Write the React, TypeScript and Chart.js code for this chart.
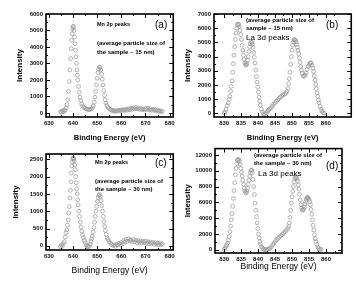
import React, { useEffect, useRef } from "react";
import { Chart, registerables } from "chart.js";

Chart.register(...registerables);

const FONT = "'Liberation Sans', Arial, Helvetica, sans-serif";

// ---------- Panel (a): Mn 2p, 15 nm ----------
const mn15Energy = [
  634.8, 635.2, 635.6, 636.0, 636.4, 636.8, 637.2, 637.5, 637.8, 638.1, 638.4, 638.7, 639.0, 639.2, 639.4, 639.6, 639.8,
  640.0, 640.2, 640.4, 640.6, 640.8, 641.0, 641.2, 641.4, 641.6, 641.8, 642.0, 642.3, 642.6, 642.9, 643.2, 643.6, 644.0,
  644.5, 645.0, 645.5, 646.0, 646.5, 647.0, 647.5, 648.0, 648.4, 648.8, 649.1, 649.4, 649.7, 650.0, 650.3, 650.6, 650.9,
  651.2, 651.5, 651.8, 652.1, 652.4, 652.7, 653.0, 653.3, 653.6, 654.0, 654.5, 655.0, 655.5,
  656.0, 656.5, 657.0, 657.5, 658.0, 658.5, 659.0, 659.5, 660.0, 660.5, 661.0, 661.5, 662.0, 662.5, 663.0, 663.5,
  664.0, 664.5, 665.0, 665.5, 666.0, 666.5, 667.0, 667.5, 668.0, 668.5, 669.0, 669.5, 670.0, 670.5, 671.0, 671.5,
  672.0, 672.5, 673.0, 673.5, 674.0, 674.5, 675.0, 675.5, 676.0, 676.5, 677.0,
];
const mn15Intensity = [
  80, 20, 120, 60, 180, 150, 300, 500, 800, 1300, 1900, 2600, 3300, 3900, 4400, 4800, 5100,
  5250, 5200, 5000, 4600, 4200, 3800, 3400, 3000, 2600, 2300, 2000, 1600, 1250, 950, 750, 550, 420,
  330, 280, 240, 220, 200, 210, 230, 300, 420, 650, 950, 1300, 1700, 2100, 2450, 2650, 2780,
  2750, 2600, 2350, 2050, 1700, 1350, 1050, 800, 600, 450, 330, 250, 200,
  160, 120, 140, 90, 120, 150, 110, 170, 130, 200, 180, 140, 220, 170, 250, 190,
  280, 220, 300, 240, 330, 250, 290, 220, 260, 200, 240, 180, 260, 210, 280, 190,
  250, 170, 220, 150, 200, 130, 170, 100, 130, 80, 100,
];

// ---------- Panel (b): La 3d, 15 nm ----------
const la15Energy = [
  830.0, 830.3, 830.6, 830.9, 831.2, 831.5, 831.7, 831.9, 832.1, 832.3, 832.5, 832.7, 832.9, 833.1, 833.3, 833.5, 833.7,
  833.9, 834.1, 834.3, 834.5, 834.7, 834.9, 835.1, 835.3, 835.5, 835.7, 835.9, 836.1, 836.3, 836.5, 836.7, 836.9, 837.1,
  837.3, 837.5, 837.7, 837.9, 838.1, 838.3, 838.5, 838.7, 838.9, 839.1, 839.3, 839.5, 839.7, 839.9, 840.1, 840.3, 840.5,
  840.7, 841.0, 841.3, 841.6, 841.9, 842.2, 842.5, 842.8, 843.1, 843.4, 843.8, 844.2, 844.6, 845.0, 845.4, 845.8, 846.2,
  846.6, 847.0, 847.4, 847.8, 848.2, 848.5, 848.8, 849.0, 849.2, 849.4, 849.6, 849.8, 850.0, 850.2, 850.4, 850.6, 850.8,
  851.0, 851.2, 851.4, 851.6, 851.8, 852.0, 852.2, 852.4, 852.6, 852.8, 853.0, 853.3, 853.6, 853.9, 854.2, 854.5, 854.8,
  855.1, 855.4, 855.7, 856.0, 856.2, 856.4, 856.6, 856.8, 857.0, 857.2, 857.4, 857.6, 857.8, 858.0, 858.3, 858.6, 858.9,
  859.2, 859.5,
];
const la15Intensity = [
  30, 120, 300, 550, 750, 1000, 1200, 1550, 1900, 2300, 2900, 3500, 4100, 4700, 5200, 5650, 6000,
  6250, 6300, 6250, 6100, 5850, 5550, 5200, 4800, 4450, 4100, 3800, 3550, 3450, 3400, 3500, 3750, 4000,
  4350, 4700, 4900, 5050, 5000, 4850, 4650, 4300, 3950, 3550, 3050, 2600, 2200, 1850, 1500, 1150, 850,
  600, 300, 100, -30, -80, -20, 50, 150, 230, 300, 400, 520, 650, 760, 850, 950, 1050,
  1150, 1220, 1300, 1350, 1420, 1550, 1750, 2100, 2450, 2900, 3450, 4000, 4450, 4800, 5050, 5180, 5200,
  5150, 5050, 4850, 4650, 4450, 4200, 3900, 3600, 3300, 3050, 2850, 2650, 2600, 2700, 2850, 3100, 3300,
  3450, 3550, 3550, 3400, 3200, 2950, 2650, 2350, 2050, 1750, 1450, 1200, 950, 750, 500, 300, 150,
  60, 20,
];

// ---------- Panel (c): Mn 2p, 30 nm ----------
const mn30Energy = [
  634.8, 635.2, 635.6, 636.0, 636.4, 636.8, 637.1, 637.4, 637.7, 638.0, 638.25, 638.5, 638.7, 638.9, 639.1, 639.3, 639.5,
  639.7, 639.9, 640.1, 640.3, 640.5, 640.7, 640.9, 641.1, 641.3, 641.5, 641.7, 641.9, 642.1, 642.4, 642.7, 643.0, 643.3,
  643.6, 643.9, 644.3, 644.7, 645.1, 645.5, 645.9, 646.3, 646.7, 647.1, 647.4, 647.7, 648.0, 648.3, 648.6, 648.9, 649.2,
  649.5, 649.8, 650.1, 650.4, 650.7, 651.0, 651.3, 651.6, 651.9, 652.2, 652.5, 652.8, 653.1, 653.4, 653.7, 654.1, 654.5,
  655.0, 655.5,
  656.0, 656.5, 657.0, 657.5, 658.0, 658.5, 659.0, 659.5, 660.0, 660.5, 661.0, 661.5, 662.0, 662.5, 663.0, 663.5,
  664.0, 664.5, 665.0, 665.5, 666.0, 666.5, 667.0, 667.5, 668.0, 668.5, 669.0, 669.5, 670.0, 670.5, 671.0, 671.5,
  672.0, 672.5, 673.0, 673.5, 674.0, 674.5, 675.0, 675.5, 676.0, 676.5, 677.0,
];
const mn30Intensity = [
  -20, 30, -10, 60, 120, 250, 380, 460, 600, 750, 950, 1130, 1380, 1600, 1850, 2100, 2300,
  2430, 2520, 2540, 2500, 2450, 2330, 2200, 2000, 1820, 1650, 1500, 1330, 1180, 1000, 850, 680, 540,
  420, 320, 230, 150, 90, 20, -20, -30, -10, 50, 130, 200, 280, 400, 530, 680, 850,
  1000, 1140, 1280, 1400, 1460, 1480, 1420, 1300, 1160, 1000, 850, 700, 560, 440, 330, 230, 180,
  120, 80,
  40, 10, 30, -10, 40, 20, 70, 40, 100, 60, 150, 110, 190, 130, 200, 150,
  170, 120, 180, 110, 160, 90, 150, 100, 140, 80, 130, 90, 140, 70, 120, 60,
  110, 70, 100, 40, 90, 50, 80, 30, 70, 40, 60,
];

// ---------- Panel (d): La 3d, 30 nm ----------
const la30Energy = [
  830.0, 830.25, 830.5, 830.75, 831.0, 831.25, 831.5, 831.7, 831.9, 832.1, 832.3, 832.5, 832.7, 832.9, 833.1, 833.3, 833.5,
  833.7, 833.9, 834.1, 834.3, 834.5, 834.7, 834.9, 835.1, 835.3, 835.5, 835.7, 835.9, 836.1, 836.3, 836.5, 836.7, 836.9,
  837.1, 837.3, 837.5, 837.7, 837.9, 838.1, 838.3, 838.5, 838.7, 838.9, 839.1, 839.3, 839.5, 839.7, 839.9, 840.1, 840.3,
  840.5, 840.7, 841.0, 841.3, 841.6, 841.9, 842.2, 842.5, 842.8, 843.1, 843.5, 843.9, 844.3, 844.7, 845.1, 845.5, 845.9,
  846.3, 846.7, 847.1, 847.5, 847.9, 848.3, 848.7, 849.0, 849.2, 849.4, 849.6, 849.8, 850.0, 850.2, 850.4, 850.6, 850.8,
  851.0, 851.2, 851.4, 851.6, 851.8, 852.0, 852.2, 852.4, 852.6, 852.8, 853.0, 853.2, 853.4, 853.6, 853.8, 854.0, 854.2,
  854.4, 854.6, 854.8, 855.0, 855.2, 855.4, 855.6, 855.8, 856.0, 856.2, 856.4, 856.6, 856.8, 857.0, 857.3, 857.6, 857.9,
  858.2, 858.5,
];
const la30Intensity = [
  60, 200, 420, 600, 840, 1200, 1700, 2300, 3000, 3800, 4600, 5500, 6500, 7500, 8500, 9500, 10300,
  10900, 11300, 11450, 11400, 11200, 10800, 10300, 9800, 9300, 8800, 8300, 7800, 7450, 7250, 7200, 7400, 7800,
  8300, 8800, 9300, 9750, 10050, 10100, 9700, 8900, 8000, 7000, 5900, 5000, 4200, 3400, 2700, 2000, 1500,
  1050, 750, 420, 220, 100, 50, 10, 0, 60, 120, 200, 400, 650, 880, 1080, 1280, 1450,
  1620, 1780, 1950, 2100, 2270, 2450, 2700, 2950, 3400, 4100, 5000, 5900, 6700, 7400, 8000, 8600, 9000,
  9200, 9150, 9000, 8700, 8200, 7700, 7000, 6300, 5700, 5300, 5050, 5000, 5150, 5400, 5800, 6100, 6400,
  6600, 6650, 6550, 6400, 6100, 5700, 5100, 4500, 3800, 3100, 2500, 1900, 1400, 1050, 650, 350, 120,
  20, 80,
];

// ---------- Tick values ----------
const mnXTicks = [630, 640, 650, 660, 670, 680];
const mnXMinor = [635, 645, 655, 665, 675];
const laXTicks = [830, 835, 840, 845, 850, 855, 860];
const laXMinor = [832.5, 837.5, 842.5, 847.5, 852.5, 857.5, 862.5];
const aYTicks = [0, 1000, 2000, 3000, 4000, 5000, 6000];
const aYMinor = [500, 1500, 2500, 3500, 4500, 5500];
const bYTicks = [0, 1000, 2000, 3000, 4000, 5000, 6000, 7000];
const bYMinor = [500, 1500, 2500, 3500, 4500, 5500, 6500];
const cYTicks = [0, 500, 1000, 1500, 2000, 2500];
const cYMinor = [250, 750, 1250, 1750, 2250];
const dYTicks = [0, 2000, 4000, 6000, 8000, 10000, 12000];
const dYMinor = [1000, 3000, 5000, 7000, 9000, 11000];

type Note = { text: string; x: number; y: number; size: number; bold?: boolean };
type PanelSpec = {
  id: string;
  left: number;
  top: number;
  width: number;
  height: number;
  area: { left: number; top: number; right: number; bottom: number };
  energy: number[];
  intensity: number[];
  xMin: number;
  xMax: number;
  yMin: number;
  yMax: number;
  xTicks: number[];
  xMinor: number[];
  yTicks: number[];
  yMinor: number[];
  xTitle: { size: number; bold: boolean; padBottom: number };
  yTitlePad: number;
  notes: Note[];
};

const panels: PanelSpec[] = [
  {
    id: "a", left: 0, top: 0, width: 178, height: 142,
    area: { left: 46, top: 14, right: 174, bottom: 117 },
    energy: mn15Energy, intensity: mn15Intensity,
    xMin: 628.8, xMax: 681.5, yMin: -250, yMax: 6000,
    xTicks: mnXTicks, xMinor: mnXMinor, yTicks: aYTicks, yMinor: aYMinor,
    xTitle: { size: 7.5, bold: true, padBottom: 0 }, yTitlePad: 15,
    notes: [
      { text: "Mn 2p peaks", x: 97, y: 24, size: 5.5, bold: true },
      { text: "(a)", x: 155, y: 25, size: 10 },
      { text: "(average particle size of", x: 97, y: 43, size: 6, bold: true },
      { text: "the sample ~ 15 nm)", x: 97, y: 52, size: 6, bold: true },
    ],
  },
  {
    id: "b", left: 178, top: 0, width: 178, height: 142,
    area: { left: 36, top: 14, right: 174, bottom: 117 },
    energy: la15Energy, intensity: la15Intensity,
    xMin: 827, xMax: 867.5, yMin: -250, yMax: 7000,
    xTicks: laXTicks, xMinor: laXMinor, yTicks: bYTicks, yMinor: bYMinor,
    xTitle: { size: 7.5, bold: true, padBottom: 0 }, yTitlePad: 5,
    notes: [
      { text: "(average particle size of", x: 246, y: 20, size: 6, bold: true },
      { text: "sample ~ 15 nm)", x: 246, y: 28, size: 6, bold: true },
      { text: "La 3d peaks", x: 246, y: 38, size: 8 },
      { text: "(b)", x: 326, y: 25, size: 10 },
    ],
  },
  {
    id: "c", left: 0, top: 142, width: 178, height: 141,
    area: { left: 46, top: 12, right: 174, bottom: 108 },
    energy: mn30Energy, intensity: mn30Intensity,
    xMin: 628.8, xMax: 681.5, yMin: -120, yMax: 2650,
    xTicks: mnXTicks, xMinor: mnXMinor, yTicks: cYTicks, yMinor: cYMinor,
    xTitle: { size: 8.5, bold: false, padBottom: 7 }, yTitlePad: 11,
    notes: [
      { text: "Mn 2p peaks", x: 95, y: 162, size: 5.5, bold: true },
      { text: "(c)", x: 155, y: 163, size: 10 },
      { text: "(average particle size of", x: 95, y: 181, size: 6, bold: true },
      { text: "the sample ~ 30 nm)", x: 95, y: 189, size: 6, bold: true },
    ],
  },
  {
    id: "d", left: 178, top: 142, width: 178, height: 141,
    area: { left: 37, top: 6, right: 164, bottom: 111 },
    energy: la30Energy, intensity: la30Intensity,
    xMin: 827.3, xMax: 864.7, yMin: -400, yMax: 12800,
    xTicks: laXTicks, xMinor: laXMinor, yTicks: dYTicks, yMinor: dYMinor,
    xTitle: { size: 8.5, bold: false, padBottom: 11 }, yTitlePad: 5,
    notes: [
      { text: "(average particle size of", x: 254, y: 155, size: 6, bold: true },
      { text: "the sample ~ 30 nm)", x: 254, y: 163, size: 6, bold: true },
      { text: "(d)", x: 326, y: 166, size: 10 },
      { text: "La 3d peaks", x: 258, y: 174, size: 8 },
    ],
  },
];

function Panel({ spec }: { spec: PanelSpec }) {
  const ref = useRef<HTMLCanvasElement | null>(null);

  useEffect(() => {
    const canvas = ref.current;
    if (!canvas) return;
    const a = spec.area;

    const framePlugin = {
      id: "frame_" + spec.id,
      afterDatasetsDraw(chart: any) {
        const { ctx, chartArea: ca, scales } = chart;
        const xs = scales.x;
        const ys = scales.y;
        ctx.save();
        ctx.strokeStyle = "#000";
        ctx.lineWidth = 1;
        const vTicks = (vals: number[], len: number) => {
          for (const v of vals) {
            if (v < spec.xMin || v > spec.xMax) continue;
            const px = Math.round(xs.getPixelForValue(v)) + 0.5;
            ctx.beginPath();
            ctx.moveTo(px, ca.bottom);
            ctx.lineTo(px, ca.bottom - len);
            ctx.moveTo(px, ca.top);
            ctx.lineTo(px, ca.top + len);
            ctx.stroke();
          }
        };
        const hTicks = (vals: number[], len: number) => {
          for (const v of vals) {
            if (v < spec.yMin || v > spec.yMax) continue;
            const py = Math.round(ys.getPixelForValue(v)) + 0.5;
            ctx.beginPath();
            ctx.moveTo(ca.left, py);
            ctx.lineTo(ca.left + len, py);
            ctx.moveTo(ca.right, py);
            ctx.lineTo(ca.right - len, py);
            ctx.stroke();
          }
        };
        vTicks(spec.xTicks, 4);
        vTicks(spec.xMinor, 2);
        hTicks(spec.yTicks, 4);
        hTicks(spec.yMinor, 2);
        ctx.lineWidth = 1.6;
        ctx.strokeRect(ca.left, ca.top, ca.right - ca.left, ca.bottom - ca.top);
        ctx.fillStyle = "#000";
        ctx.textBaseline = "middle";
        ctx.textAlign = "left";
        for (const n of spec.notes) {
          ctx.font = `${n.bold ? "bold " : ""}${n.size}px ${FONT}`;
          ctx.fillText(n.text, n.x - spec.left, n.y - spec.top);
        }
        ctx.restore();
      },
    };

    const chart = new Chart(canvas, {
      type: "scatter",
      data: {
        datasets: [
          {
            data: spec.energy.map((x, i) => ({ x, y: spec.intensity[i] })),
            showLine: false,
            pointStyle: "circle",
            pointRadius: 1.9,
            pointBorderWidth: 0.75,
            pointBorderColor: "#999999",
            pointBackgroundColor: "rgba(0,0,0,0)",
          },
        ],
      },
      options: {
        animation: false,
        responsive: false,
        maintainAspectRatio: false,
        devicePixelRatio: 1,
        layout: { padding: { top: a.top, right: spec.width - a.right, left: 0, bottom: 0 } },
        plugins: { legend: { display: false }, tooltip: { enabled: false } },
        scales: {
          x: {
            type: "linear",
            min: spec.xMin,
            max: spec.xMax,
            grid: { display: false, drawTicks: false },
            border: { display: false },
            afterBuildTicks: (s: any) => {
              s.ticks = spec.xTicks.map((v) => ({ value: v }));
            },
            afterFit: (s: any) => {
              s.height = spec.height - a.bottom;
            },
            ticks: {
              callback: (v: any) => String(v),
              font: { family: FONT, size: 6, weight: "bold" },
              color: "#111",
              padding: 3,
              maxRotation: 0,
              minRotation: 0,
              autoSkip: false,
            },
            title: {
              display: true,
              text: "Binding Energy (eV)",
              color: "#000",
              font: { family: FONT, size: spec.xTitle.size, weight: spec.xTitle.bold ? "bold" : "normal", lineHeight: 1.2 },
              padding: { top: 0, bottom: spec.xTitle.padBottom },
            },
          },
          y: {
            type: "linear",
            min: spec.yMin,
            max: spec.yMax,
            grid: { display: false, drawTicks: false },
            border: { display: false },
            afterBuildTicks: (s: any) => {
              s.ticks = spec.yTicks.map((v) => ({ value: v }));
            },
            afterFit: (s: any) => {
              s.width = a.left;
            },
            ticks: {
              callback: (v: any) => String(v),
              font: { family: FONT, size: 6, weight: "bold" },
              color: "#111",
              padding: 3,
              autoSkip: false,
            },
            title: {
              display: true,
              text: "Intensity",
              color: "#000",
              font: { family: FONT, size: 8, weight: "bold", lineHeight: 1.2 },
              padding: { top: spec.yTitlePad, bottom: 0 },
            },
          },
        },
      },
      plugins: [framePlugin],
    } as any);

    return () => chart.destroy();
  }, [spec]);

  return (
    <canvas
      ref={ref}
      width={spec.width}
      height={spec.height}
      style={{ position: "absolute", left: spec.left, top: spec.top, width: spec.width, height: spec.height }}
    />
  );
}

export default function App() {
  return (
    <div style={{ position: "absolute", left: 0, top: 0, width: 356, height: 283, background: "#fff", overflow: "hidden" }}>
      {panels.map((p) => (
        <Panel key={p.id} spec={p} />
      ))}
    </div>
  );
}
